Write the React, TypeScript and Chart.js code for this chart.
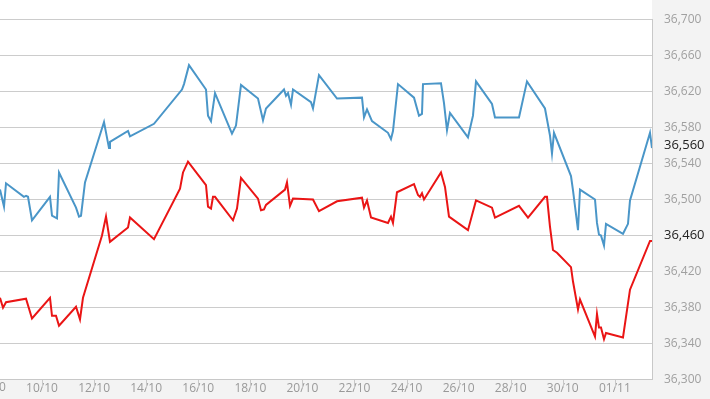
import React, { useEffect, useRef } from "react";
import { Chart, registerables } from "chart.js";

Chart.register(...registerables);

// x values are days counted from 0/10 (32 = 01/11)
const blueDays = [8.387, 8.541, 8.618, 9.306, 9.386, 9.462, 9.616, 10.307, 10.384, 10.576, 10.653, 11.306, 11.421, 11.498, 11.651, 12.381, 12.573, 12.611, 13.303, 13.379, 14.301, 15.376, 15.453, 15.645, 16.298, 16.375, 16.49, 16.644, 17.296, 17.45, 17.642, 18.295, 18.487, 18.602, 19.293, 19.37, 19.447, 19.562, 19.639, 20.33, 20.407, 20.637, 21.329, 22.289, 22.366, 22.481, 22.673, 23.287, 23.402, 23.479, 23.671, 24.286, 24.478, 24.593, 24.631, 25.322, 25.438, 25.553, 25.668, 26.359, 26.551, 26.667, 27.281, 27.396, 28.318, 28.625, 29.316, 29.508, 29.585, 29.662, 30.315, 30.392, 30.584, 30.661, 31.237, 31.313, 31.39, 31.467, 31.582, 31.659, 32.312, 32.504, 32.581, 33.349, 33.426];
const blueValues = [36511, 36492, 36518, 36503, 36504, 36503, 36477, 36503, 36482, 36479, 36530, 36491, 36481, 36482, 36519, 36586, 36557, 36564, 36576, 36570, 36584, 36622, 36628, 36649, 36622, 36593, 36587, 36618, 36573, 36582, 36627, 36612, 36588, 36601, 36622, 36615, 36618, 36605, 36622, 36608, 36601, 36638, 36612, 36613, 36591, 36600, 36587, 36574, 36567, 36576, 36628, 36613, 36593, 36595, 36628, 36629, 36607, 36577, 36596, 36569, 36593, 36631, 36606, 36591, 36591, 36631, 36601, 36571, 36551, 36574, 36526, 36510, 36466, 36511, 36500, 36474, 36461, 36460, 36449, 36473, 36462, 36473, 36499, 36574, 36557];

const redDays = [8.387, 8.503, 8.618, 9.386, 9.616, 10.307, 10.384, 10.538, 10.653, 11.306, 11.459, 11.574, 12.304, 12.458, 12.611, 13.303, 13.379, 14.301, 15.3, 15.415, 15.607, 16.298, 16.375, 16.49, 16.567, 16.644, 17.335, 17.488, 17.642, 18.295, 18.41, 18.525, 18.602, 19.332, 19.408, 19.524, 19.639, 20.407, 20.637, 21.329, 22.289, 22.366, 22.481, 22.635, 23.287, 23.402, 23.479, 23.632, 24.286, 24.439, 24.516, 24.593, 24.67, 25.322, 25.476, 25.63, 26.359, 26.667, 27.281, 27.396, 28.318, 28.664, 29.316, 29.393, 29.508, 29.623, 29.777, 30.315, 30.392, 30.584, 30.661, 31.237, 31.313, 31.39, 31.467, 31.582, 31.659, 32.312, 32.581, 33.349, 33.426];
const redValues = [36391, 36380, 36386, 36390, 36368, 36391, 36371, 36371, 36360, 36381, 36367, 36391, 36460, 36481, 36453, 36469, 36480, 36456, 36512, 36530, 36542, 36516, 36492, 36490, 36503, 36503, 36477, 36490, 36524, 36501, 36488, 36489, 36494, 36511, 36519, 36493, 36501, 36500, 36487, 36498, 36502, 36491, 36499, 36480, 36474, 36481, 36474, 36508, 36517, 36505, 36503, 36507, 36500, 36530, 36514, 36481, 36466, 36499, 36491, 36480, 36493, 36480, 36503, 36503, 36470, 36444, 36441, 36425, 36409, 36378, 36389, 36348, 36373, 36358, 36358, 36345, 36352, 36347, 36400, 36454, 36454];

const xTickDays = [10, 12, 14, 16, 18, 20, 22, 24, 26, 28, 30, 32];
const xCutTickDay = 8; // 08/10 sits just left of the plot and is cut by the edge
const xMin = 8.387;
const xMax = 33.426;

const yTickValues = [36300, 36340, 36380, 36420, 36460, 36500, 36540, 36560, 36580, 36620, 36660, 36700];
const highlightedTicks = [36560, 36460];
const yMin = 36300;
const yMax = 36700;

const pad2 = (n: number) => (n < 10 ? "0" + n : "" + n);
const dayLabel = (d: number) => (d <= 31 ? pad2(d) + "/10" : pad2(d - 31) + "/11");
const fmt = (v: number) => Math.round(v).toLocaleString("en-US");
const FONT = "'Open Sans', sans-serif";

export default function App() {
  const ref = useRef<HTMLCanvasElement | null>(null);

  useEffect(() => {
    if (!ref.current) return;
    const bgPlugin = {
      id: "bg",
      beforeDraw(chart: any) {
        const { ctx, chartArea, width, height } = chart;
        ctx.save();
        ctx.fillStyle = "#f3f3f3";
        ctx.fillRect(0, 0, width, height);
        ctx.fillStyle = "#ffffff";
        ctx.fillRect(0, 0, chartArea.right, chartArea.bottom);
        ctx.restore();
      },
      afterDraw(chart: any) {
        const { ctx, chartArea } = chart;
        const xs = chart.scales.x;
        ctx.save();
        ctx.strokeStyle = "#c8c8c8";
        ctx.lineWidth = 1;
        [xCutTickDay, ...xTickDays].forEach((d) => {
          const px = Math.round(xs.getPixelForValue(d)) + 0.5;
          ctx.beginPath();
          ctx.moveTo(px, chartArea.bottom);
          ctx.lineTo(px, chartArea.bottom + 8);
          ctx.stroke();
        });
        ctx.fillStyle = "#999999";
        ctx.font = "12px " + FONT;
        ctx.textAlign = "center";
        ctx.textBaseline = "top";
        ctx.fillText(dayLabel(xCutTickDay), xs.getPixelForValue(xCutTickDay), chartArea.bottom + 2);
        ctx.restore();
      },
    };

    const chart = new Chart(ref.current, {
      type: "line",
      data: {
        datasets: [
          {
            data: blueDays.map((d, i) => ({ x: d, y: blueValues[i] })),
            borderColor: "#4a96c8",
            borderWidth: 2,
            pointRadius: 0,
            tension: 0,
            fill: false,
          },
          {
            data: redDays.map((d, i) => ({ x: d, y: redValues[i] })),
            borderColor: "#ea1515",
            borderWidth: 2,
            pointRadius: 0,
            tension: 0,
            fill: false,
          },
        ],
      },
      options: {
        animation: false,
        responsive: false,
        maintainAspectRatio: false,
        layout: { autoPadding: false, padding: { top: 12, left: 0, right: 0, bottom: 0 } },
        plugins: { legend: { display: false }, tooltip: { enabled: false } },
        scales: {
          x: {
            type: "linear",
            min: xMin,
            max: xMax,
            afterBuildTicks: (s: any) => {
              s.ticks = xTickDays.map((v) => ({ value: v }));
            },
            afterFit: (s: any) => {
              s.height = 19;
            },
            grid: { display: false, drawTicks: false },
            border: { display: true, color: "#c8c8c8", width: 1 },
            ticks: {
              autoSkip: false,
              maxRotation: 0,
              padding: 2,
              color: "#999999",
              font: { family: FONT, size: 12 },
              callback: (v: any) => dayLabel(Number(v)),
            },
          },
          y: {
            type: "linear",
            position: "right",
            min: yMin,
            max: yMax,
            afterBuildTicks: (s: any) => {
              s.ticks = yTickValues.map((v) => ({ value: v }));
            },
            afterFit: (s: any) => {
              s.width = 58;
            },
            grid: {
              drawTicks: false,
              color: (c: any) => (c.tick && c.tick.value === 36560 ? "rgba(0,0,0,0)" : "#cccccc"),
              lineWidth: 1,
            },
            border: { display: true, color: "#c8c8c8", width: 1 },
            ticks: {
              padding: 12,
              color: (c: any) => (highlightedTicks.includes(c.tick.value) ? "#222222" : "#a0a0a0"),
              font: (c: any) => ({
                family: FONT,
                size: c.tick && highlightedTicks.includes(c.tick.value) ? 13 : 12,
              }),
              callback: (v: any) => fmt(Number(v)),
            },
          },
        },
      },
      plugins: [bgPlugin],
    });
    return () => chart.destroy();
  }, []);

  return (
    <div style={{ position: "fixed", left: 0, top: 0, width: 710, height: 399 }}>
      <canvas ref={ref} width={710} height={399} style={{ display: "block" }} />
    </div>
  );
}
